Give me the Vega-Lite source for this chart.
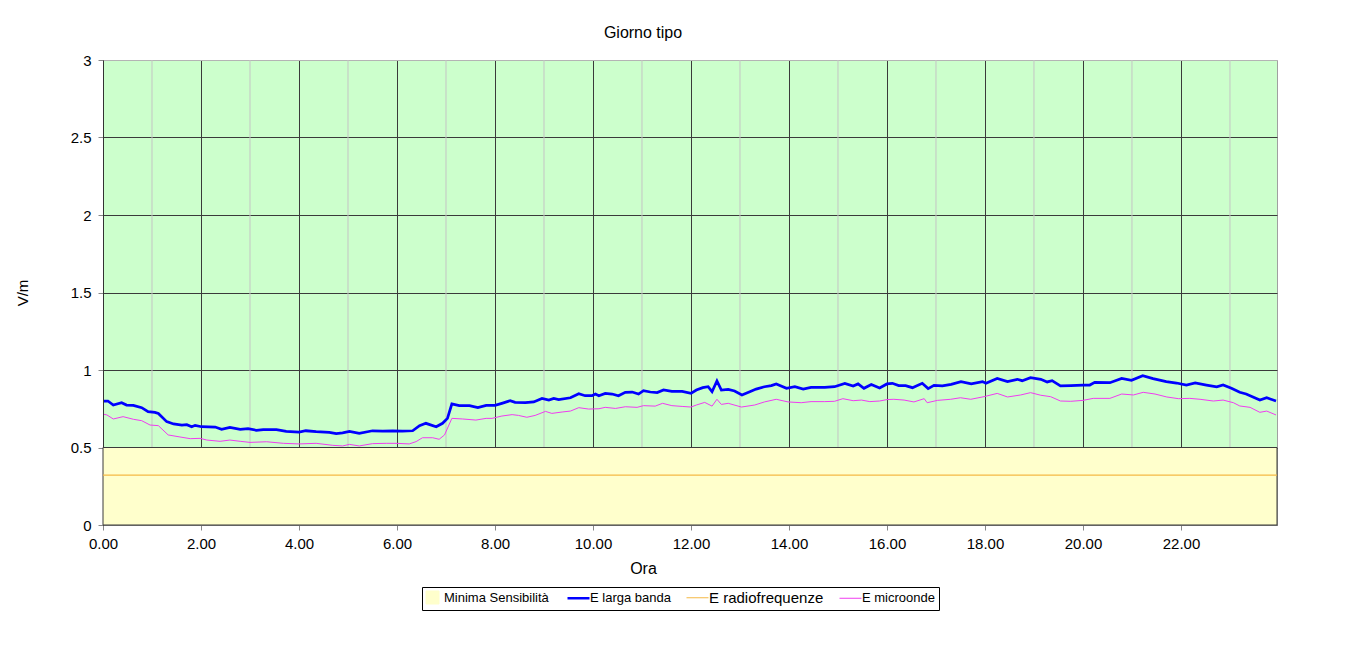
{
  "$schema": "https://vega.github.io/schema/vega-lite/v6.json",
  "autosize": "none",
  "width": 1174,
  "height": 465,
  "padding": {"left": 103, "top": 60, "right": 74, "bottom": 147},
  "background": "#ffffff",
  "title": {"text": "Giorno tipo", "font": "Liberation Sans", "fontSize": 16, "fontWeight": "normal", "color": "#000", "anchor": "middle", "dx": -47, "offset": 12},
  "datasets": {
    "minor": [{"h": 1}, {"h": 3}, {"h": 5}, {"h": 7}, {"h": 9}, {"h": 11}, {"h": 13}, {"h": 15}, {"h": 17}, {"h": 19}, {"h": 21}, {"h": 23}],
    "soglia": [{"ora": 0, "v": 0.5}, {"ora": 23.96, "v": 0.5}],
    "radio": [{"ora": 0, "v": 0.322}, {"ora": 23.96, "v": 0.322}],
    "larga": [
      {"ora": 0.02, "v": 0.80}, {"ora": 0.10, "v": 0.80}, {"ora": 0.21, "v": 0.774}, {"ora": 0.38, "v": 0.789}, {"ora": 0.48, "v": 0.774},
      {"ora": 0.62, "v": 0.772}, {"ora": 0.79, "v": 0.757}, {"ora": 0.92, "v": 0.731}, {"ora": 1.06, "v": 0.727}, {"ora": 1.13, "v": 0.72},
      {"ora": 1.30, "v": 0.667}, {"ora": 1.44, "v": 0.652}, {"ora": 1.61, "v": 0.645}, {"ora": 1.71, "v": 0.647}, {"ora": 1.81, "v": 0.634},
      {"ora": 1.88, "v": 0.643}, {"ora": 2.01, "v": 0.634}, {"ora": 2.29, "v": 0.632}, {"ora": 2.42, "v": 0.617}, {"ora": 2.59, "v": 0.63},
      {"ora": 2.80, "v": 0.617}, {"ora": 2.96, "v": 0.622}, {"ora": 3.13, "v": 0.611}, {"ora": 3.27, "v": 0.615}, {"ora": 3.54, "v": 0.615},
      {"ora": 3.74, "v": 0.604}, {"ora": 4.00, "v": 0.60}, {"ora": 4.14, "v": 0.608}, {"ora": 4.35, "v": 0.602}, {"ora": 4.62, "v": 0.598},
      {"ora": 4.76, "v": 0.589}, {"ora": 4.89, "v": 0.594}, {"ora": 5.03, "v": 0.604}, {"ora": 5.23, "v": 0.591}, {"ora": 5.50, "v": 0.608},
      {"ora": 5.71, "v": 0.606}, {"ora": 5.91, "v": 0.608}, {"ora": 6.11, "v": 0.606}, {"ora": 6.32, "v": 0.608}, {"ora": 6.46, "v": 0.641},
      {"ora": 6.59, "v": 0.656}, {"ora": 6.80, "v": 0.634}, {"ora": 6.93, "v": 0.656}, {"ora": 7.03, "v": 0.688}, {"ora": 7.12, "v": 0.781},
      {"ora": 7.27, "v": 0.77}, {"ora": 7.48, "v": 0.77}, {"ora": 7.65, "v": 0.757}, {"ora": 7.82, "v": 0.772}, {"ora": 8.00, "v": 0.772},
      {"ora": 8.14, "v": 0.785}, {"ora": 8.31, "v": 0.802}, {"ora": 8.41, "v": 0.791}, {"ora": 8.62, "v": 0.789}, {"ora": 8.79, "v": 0.794},
      {"ora": 8.96, "v": 0.817}, {"ora": 9.10, "v": 0.806}, {"ora": 9.20, "v": 0.817}, {"ora": 9.30, "v": 0.809}, {"ora": 9.54, "v": 0.821},
      {"ora": 9.71, "v": 0.847}, {"ora": 9.84, "v": 0.834}, {"ora": 9.98, "v": 0.834}, {"ora": 10.05, "v": 0.845}, {"ora": 10.12, "v": 0.834},
      {"ora": 10.25, "v": 0.849}, {"ora": 10.39, "v": 0.845}, {"ora": 10.52, "v": 0.834}, {"ora": 10.66, "v": 0.856}, {"ora": 10.80, "v": 0.858},
      {"ora": 10.93, "v": 0.845}, {"ora": 11.03, "v": 0.867}, {"ora": 11.17, "v": 0.858}, {"ora": 11.31, "v": 0.854}, {"ora": 11.44, "v": 0.871},
      {"ora": 11.61, "v": 0.862}, {"ora": 11.82, "v": 0.862}, {"ora": 12.00, "v": 0.849}, {"ora": 12.11, "v": 0.871}, {"ora": 12.24, "v": 0.886},
      {"ora": 12.35, "v": 0.892}, {"ora": 12.43, "v": 0.86}, {"ora": 12.53, "v": 0.929}, {"ora": 12.62, "v": 0.871}, {"ora": 12.76, "v": 0.875},
      {"ora": 12.89, "v": 0.865}, {"ora": 13.04, "v": 0.839}, {"ora": 13.20, "v": 0.86}, {"ora": 13.33, "v": 0.877}, {"ora": 13.50, "v": 0.892},
      {"ora": 13.64, "v": 0.899}, {"ora": 13.74, "v": 0.91}, {"ora": 13.95, "v": 0.882}, {"ora": 14.12, "v": 0.892}, {"ora": 14.29, "v": 0.877},
      {"ora": 14.45, "v": 0.888}, {"ora": 14.73, "v": 0.888}, {"ora": 14.93, "v": 0.892}, {"ora": 15.14, "v": 0.914}, {"ora": 15.31, "v": 0.896},
      {"ora": 15.41, "v": 0.91}, {"ora": 15.53, "v": 0.882}, {"ora": 15.68, "v": 0.907}, {"ora": 15.85, "v": 0.884}, {"ora": 16.00, "v": 0.91},
      {"ora": 16.11, "v": 0.914}, {"ora": 16.24, "v": 0.899}, {"ora": 16.38, "v": 0.899}, {"ora": 16.52, "v": 0.886}, {"ora": 16.72, "v": 0.914},
      {"ora": 16.84, "v": 0.88}, {"ora": 16.96, "v": 0.901}, {"ora": 17.13, "v": 0.897}, {"ora": 17.31, "v": 0.907}, {"ora": 17.51, "v": 0.925},
      {"ora": 17.72, "v": 0.91}, {"ora": 17.95, "v": 0.925}, {"ora": 18.02, "v": 0.914}, {"ora": 18.25, "v": 0.946}, {"ora": 18.46, "v": 0.925},
      {"ora": 18.66, "v": 0.94}, {"ora": 18.76, "v": 0.931}, {"ora": 18.93, "v": 0.95}, {"ora": 19.14, "v": 0.94}, {"ora": 19.27, "v": 0.923},
      {"ora": 19.37, "v": 0.931}, {"ora": 19.54, "v": 0.897}, {"ora": 19.75, "v": 0.899}, {"ora": 20.00, "v": 0.903}, {"ora": 20.14, "v": 0.903},
      {"ora": 20.24, "v": 0.92}, {"ora": 20.55, "v": 0.918}, {"ora": 20.79, "v": 0.946}, {"ora": 20.99, "v": 0.933}, {"ora": 21.22, "v": 0.963},
      {"ora": 21.43, "v": 0.944}, {"ora": 21.70, "v": 0.925}, {"ora": 21.91, "v": 0.916}, {"ora": 22.11, "v": 0.903}, {"ora": 22.29, "v": 0.916},
      {"ora": 22.52, "v": 0.903}, {"ora": 22.73, "v": 0.892}, {"ora": 22.86, "v": 0.903}, {"ora": 23.03, "v": 0.882}, {"ora": 23.20, "v": 0.856},
      {"ora": 23.33, "v": 0.845}, {"ora": 23.61, "v": 0.806}, {"ora": 23.75, "v": 0.821}, {"ora": 23.94, "v": 0.80}
    ],
    "micro": [
      {"ora": 0.02, "v": 0.714}, {"ora": 0.08, "v": 0.71}, {"ora": 0.21, "v": 0.684}, {"ora": 0.41, "v": 0.699}, {"ora": 0.62, "v": 0.682},
      {"ora": 0.79, "v": 0.673}, {"ora": 0.96, "v": 0.645}, {"ora": 1.13, "v": 0.641}, {"ora": 1.33, "v": 0.581}, {"ora": 1.57, "v": 0.568},
      {"ora": 1.78, "v": 0.557}, {"ora": 1.98, "v": 0.559}, {"ora": 2.12, "v": 0.548}, {"ora": 2.39, "v": 0.54}, {"ora": 2.59, "v": 0.548},
      {"ora": 2.80, "v": 0.54}, {"ora": 3.00, "v": 0.533}, {"ora": 3.34, "v": 0.537}, {"ora": 3.68, "v": 0.527}, {"ora": 4.00, "v": 0.523},
      {"ora": 4.35, "v": 0.527}, {"ora": 4.69, "v": 0.514}, {"ora": 4.89, "v": 0.51}, {"ora": 5.03, "v": 0.52}, {"ora": 5.23, "v": 0.51},
      {"ora": 5.50, "v": 0.525}, {"ora": 5.78, "v": 0.527}, {"ora": 5.98, "v": 0.527}, {"ora": 6.25, "v": 0.523}, {"ora": 6.39, "v": 0.538},
      {"ora": 6.52, "v": 0.563}, {"ora": 6.73, "v": 0.563}, {"ora": 6.86, "v": 0.553}, {"ora": 6.97, "v": 0.581}, {"ora": 7.12, "v": 0.688},
      {"ora": 7.34, "v": 0.684}, {"ora": 7.61, "v": 0.677}, {"ora": 7.82, "v": 0.688}, {"ora": 7.94, "v": 0.688}, {"ora": 8.14, "v": 0.703},
      {"ora": 8.35, "v": 0.712}, {"ora": 8.48, "v": 0.707}, {"ora": 8.65, "v": 0.695}, {"ora": 8.82, "v": 0.707}, {"ora": 9.03, "v": 0.733},
      {"ora": 9.16, "v": 0.72}, {"ora": 9.37, "v": 0.729}, {"ora": 9.54, "v": 0.735}, {"ora": 9.71, "v": 0.757}, {"ora": 9.91, "v": 0.748},
      {"ora": 10.12, "v": 0.75}, {"ora": 10.25, "v": 0.759}, {"ora": 10.46, "v": 0.752}, {"ora": 10.66, "v": 0.763}, {"ora": 10.90, "v": 0.759},
      {"ora": 11.03, "v": 0.77}, {"ora": 11.27, "v": 0.767}, {"ora": 11.42, "v": 0.785}, {"ora": 11.61, "v": 0.77}, {"ora": 11.82, "v": 0.765},
      {"ora": 12.00, "v": 0.761}, {"ora": 12.11, "v": 0.774}, {"ora": 12.28, "v": 0.791}, {"ora": 12.43, "v": 0.767}, {"ora": 12.53, "v": 0.811},
      {"ora": 12.62, "v": 0.778}, {"ora": 12.76, "v": 0.785}, {"ora": 13.03, "v": 0.761}, {"ora": 13.30, "v": 0.774}, {"ora": 13.50, "v": 0.794},
      {"ora": 13.74, "v": 0.811}, {"ora": 13.98, "v": 0.794}, {"ora": 14.25, "v": 0.789}, {"ora": 14.45, "v": 0.796}, {"ora": 14.73, "v": 0.796},
      {"ora": 14.93, "v": 0.798}, {"ora": 15.10, "v": 0.815}, {"ora": 15.31, "v": 0.802}, {"ora": 15.48, "v": 0.806}, {"ora": 15.65, "v": 0.796},
      {"ora": 15.85, "v": 0.80}, {"ora": 16.00, "v": 0.809}, {"ora": 16.14, "v": 0.811}, {"ora": 16.35, "v": 0.806}, {"ora": 16.55, "v": 0.794},
      {"ora": 16.76, "v": 0.815}, {"ora": 16.82, "v": 0.789}, {"ora": 17.03, "v": 0.804}, {"ora": 17.30, "v": 0.811}, {"ora": 17.50, "v": 0.821},
      {"ora": 17.71, "v": 0.811}, {"ora": 17.98, "v": 0.828}, {"ora": 18.25, "v": 0.849}, {"ora": 18.46, "v": 0.826}, {"ora": 18.73, "v": 0.839},
      {"ora": 18.93, "v": 0.854}, {"ora": 19.14, "v": 0.837}, {"ora": 19.34, "v": 0.828}, {"ora": 19.54, "v": 0.80}, {"ora": 19.75, "v": 0.798},
      {"ora": 20.00, "v": 0.804}, {"ora": 20.21, "v": 0.817}, {"ora": 20.55, "v": 0.817}, {"ora": 20.79, "v": 0.845}, {"ora": 21.03, "v": 0.839},
      {"ora": 21.23, "v": 0.856}, {"ora": 21.47, "v": 0.845}, {"ora": 21.71, "v": 0.826}, {"ora": 21.95, "v": 0.815}, {"ora": 22.18, "v": 0.817},
      {"ora": 22.39, "v": 0.811}, {"ora": 22.66, "v": 0.80}, {"ora": 22.86, "v": 0.806}, {"ora": 23.07, "v": 0.789}, {"ora": 23.20, "v": 0.768},
      {"ora": 23.41, "v": 0.759}, {"ora": 23.61, "v": 0.727}, {"ora": 23.75, "v": 0.735}, {"ora": 23.94, "v": 0.71}
    ]
  },
  "encoding": {
    "x": {
      "field": "ora", "type": "quantitative",
      "scale": {"domain": [0, 23.96], "nice": false, "zero": false},
      "axis": {
        "title": "Ora", "values": [0, 2, 4, 6, 8, 10, 12, 14, 16, 18, 20, 22], "format": ".2f",
        "grid": true, "gridColor": "#3a3a3a", "gridWidth": 1, "gridOpacity": 1,
        "domainColor": "#888888", "tickColor": "#888888", "tickSize": 5,
        "labelFont": "Liberation Sans", "labelFontSize": 15, "labelColor": "#000", "labelPadding": 6, "labelFlush": false,
        "titleFont": "Liberation Sans", "titleFontSize": 16, "titleFontWeight": "normal", "titleColor": "#000", "titlePadding": 9, "titleX": 540
      }
    },
    "y": {
      "field": "v", "type": "quantitative",
      "scale": {"domain": [0, 3], "nice": false},
      "axis": {
        "title": "V/m", "values": [0, 0.5, 1, 1.5, 2, 2.5, 3], "labelExpr": "'' + datum.value",
        "grid": true, "gridColor": {"condition": {"test": "datum.value == 3", "value": "#b4b4b4"}, "value": "#3a3a3a"}, "gridWidth": 1, "gridOpacity": 1,
        "domainColor": "#333333", "tickColor": "#888888", "tickSize": 5,
        "labelFont": "Liberation Sans", "labelFontSize": 15, "labelColor": "#000", "labelPadding": 7, "labelFlush": false,
        "titleFont": "Liberation Sans", "titleFontSize": 15, "titleFontWeight": "normal", "titleColor": "#000", "titlePadding": 40
      }
    },
    "color": {
      "datum": "Minima Sensibilità", "type": "nominal",
      "scale": {
        "domain": ["Minima Sensibilità", "E larga banda", "E radiofrequenze", "E microonde"],
        "range": ["#FFFFCC", "#0000FF", "#F5B945", "#F03CF0"]
      },
      "legend": {
        "orient": "none", "legendX": 319, "legendY": 527, "direction": "horizontal", "columns": 4,
        "title": null, "strokeColor": "#000", "padding": 4, "columnPadding": 13, "labelOffset": 5,
        "symbolSize": 484, "symbolType": "stroke", "labelFont": "Liberation Sans", "labelFontSize": 13, "labelColor": "#000", "labelLimit": 300,
        "encode": {
          "symbols": {
            "update": {
              "shape": {"signal": "datum.label === 'Minima Sensibilità' ? 'square' : 'stroke'"},
              "size": {"signal": "datum.label === 'Minima Sensibilità' ? 169 : 484"},
              "fill": {"signal": "datum.label === 'Minima Sensibilità' ? '#FFFFCC' : 'transparent'"},
              "stroke": {"signal": "datum.label === 'Minima Sensibilità' ? '#000000' : datum.label === 'E larga banda' ? '#0000FF' : datum.label === 'E radiofrequenze' ? '#FFC880' : '#F03CF0'"},
              "strokeWidth": {"signal": "datum.label === 'E larga banda' ? 2.5 : 1"},
              "opacity": {"value": 1}
            }
          },
          "labels": {
            "update": {
              "fontSize": {"signal": "datum.label === 'E radiofrequenze' ? 15 : 13"}
            }
          }
        }
      }
    }
  },
  "layer": [
    {
      "data": {"name": "minor"},
      "mark": {"type": "rule", "color": "#c4c4c4", "strokeWidth": 1},
      "encoding": {"x": {"field": "h", "type": "quantitative"}, "y": null, "color": null}
    },
    {
      "data": {"name": "soglia"},
      "mark": {"type": "area", "stroke": "#3a3a3a", "strokeWidth": 1, "opacity": 1, "fillOpacity": 1}
    },
    {
      "data": {"name": "radio"},
      "mark": {"type": "line", "strokeWidth": 1.2},
      "encoding": {
        "color": {"datum": "E radiofrequenze", "type": "nominal"}
      }
    },
    {
      "data": {"name": "micro"},
      "mark": {"type": "line", "strokeWidth": 1},
      "encoding": {
        "color": {"datum": "E microonde", "type": "nominal"}
      }
    },
    {
      "data": {"name": "larga"},
      "mark": {"type": "line", "strokeWidth": 2.75},
      "encoding": {
        "color": {"datum": "E larga banda", "type": "nominal"}
      }
    }
  ],
  "resolve": {"scale": {"color": "shared"}},
  "config": {
    "view": {"fill": "#CCFFCC", "stroke": "#a0a0a0", "strokeWidth": 1}
  }
}
